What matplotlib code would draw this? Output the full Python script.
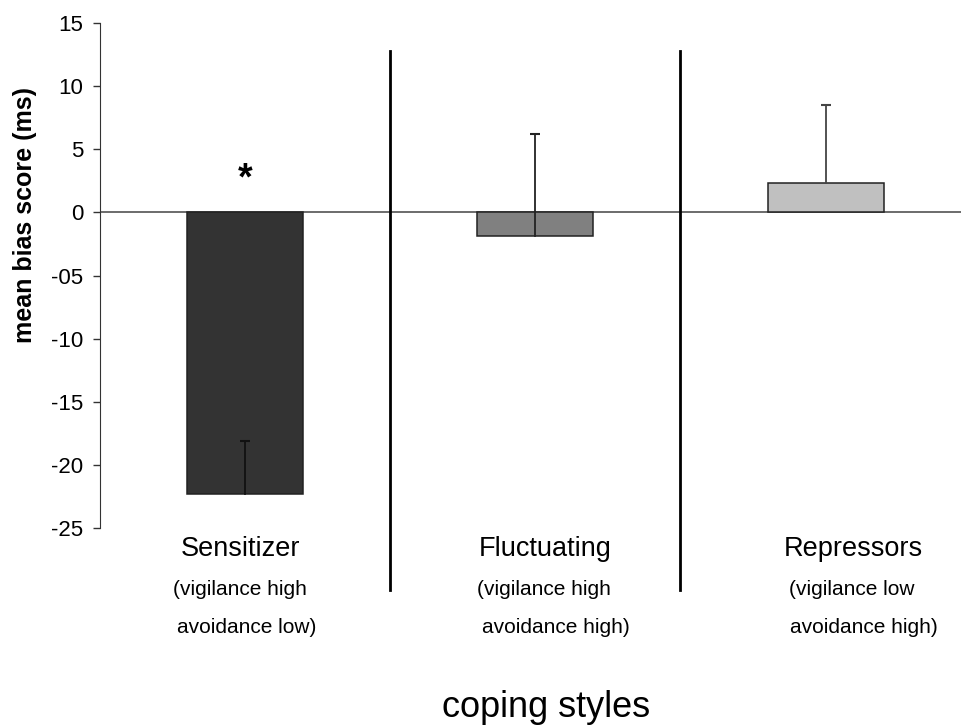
import matplotlib.pyplot as plt
import numpy as np

plt.rcParams['font.family'] = ['Liberation Sans', 'DejaVu Sans']

groups = ["Sensitizer", "Fluctuating", "Repressors"]
sub1 = ["(vigilance high", "(vigilance high", "(vigilance low"]
sub2 = ["avoidance low)", "avoidance high)", "avoidance high)"]
means = [-22.3, -1.9, 2.3]
err_up = [4.2, 8.1, 6.2]
colors = ["#333333", "#808080", "#c0c0c0"]
err_colors = ["#111111", "#222222", "#444444"]
yticks = [15, 10, 5, 0, -5, -10, -15, -20, -25]
ytick_labels = ["15", "10", "5", "0", "-05", "-10", "-15", "-20", "-25"]

W, H = 962, 726
fig = plt.figure(figsize=(W / 100, H / 100), dpi=100)
ax = fig.add_axes([0.104, 0.273, 0.896, 0.695])

x = np.arange(len(groups))
ax.bar(x, means, width=0.40, color=colors, edgecolor="#222222", linewidth=1.1, zorder=2)
tops = np.array(means) + np.array(err_up)
for i in range(len(groups)):
    ax.plot([x[i], x[i]], [means[i], tops[i]], color=err_colors[i], lw=1.3, zorder=3)
    ax.plot(x[i], tops[i], marker="_", ms=7, mew=1.5, color=err_colors[i], zorder=3)

ax.axhline(0, color="#444444", lw=1.1, zorder=1)
for xd in [0.5, 1.5]:
    ax.plot([xd, xd], [-29.9, 12.8], color="black", lw=2, clip_on=False, zorder=1)

ax.text(x[0], 2.6, "*", ha="center", va="center", fontsize=27, fontweight="bold")

ax.set_xlim(-0.5, 2.47)
ax.set_ylim(-25, 15)
ax.set_yticks(yticks)
ax.set_yticklabels(ytick_labels, fontsize=16)
ax.tick_params(axis="y", direction="out", length=5, width=1, pad=7, color="#333333")
ax.set_xticks([])
for s in ["top", "right", "bottom"]:
    ax.spines[s].set_visible(False)
ax.spines["left"].set_color("#333333")

# category labels (left edges in pixels, as placed in the original)
lab_x = [181, 479, 784]
sub1_x = [173, 477, 789]
sub2_x = [177, 482, 790]
for i, g in enumerate(groups):
    fig.text(lab_x[i] / W, 1 - 556 / H, g, ha="left", va="baseline", fontsize=19.5)
    fig.text(sub1_x[i] / W, 1 - 595 / H, sub1[i], ha="left", va="baseline", fontsize=15)
    fig.text(sub2_x[i] / W, 1 - 633 / H, sub2[i], ha="left", va="baseline", fontsize=15)

fig.text(546 / W, 1 - 717 / H, "coping styles", ha="center", va="baseline", fontsize=26)
fig.text(25 / W, 1 - 215 / H, "mean bias score (ms)", rotation=90, ha="center", va="center",
         fontsize=18, fontweight="bold")

fig.savefig("out.png", dpi=100)
